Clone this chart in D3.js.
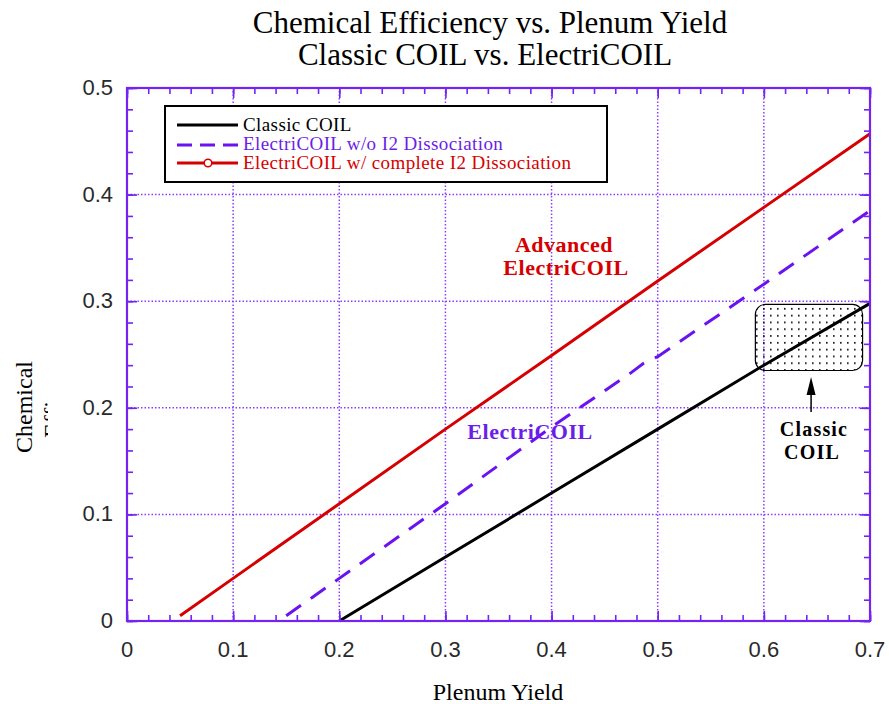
<!DOCTYPE html>
<html><head><meta charset="utf-8">
<script src="https://cdn.jsdelivr.net/npm/d3@7"></script>
<style>body{margin:0;background:#fff}svg{display:block}</style>
</head><body>
<script>
// ---- data ----
const xTicks = [0, 0.1, 0.2, 0.3, 0.4, 0.5, 0.6, 0.7];
const yTicks = [0, 0.1, 0.2, 0.3, 0.4, 0.5];
const xTickLabels = ["0", "0.1", "0.2", "0.3", "0.4", "0.5", "0.6", "0.7"];
const yTickLabels = ["0", "0.1", "0.2", "0.3", "0.4", "0.5"];

const classicX = [0.2, 0.3, 0.4, 0.5, 0.6, 0.7];
const classicY = [0.0, 0.06, 0.12, 0.18, 0.24, 0.298];

const electriX = [0.15, 0.2, 0.3, 0.4, 0.475, 0.487, 0.5, 0.6, 0.7];
const electriY = [0.005, 0.04, 0.11, 0.182, 0.233, 0.242, 0.248, 0.316, 0.385];

const advancedX = [0.05, 0.1, 0.2, 0.3, 0.4, 0.5, 0.6, 0.7];
const advancedY = [0.005, 0.04, 0.11, 0.18, 0.249, 0.319, 0.388, 0.457];

const seriesNames = ["Classic COIL", "ElectriCOIL w/o I2 Dissociation", "ElectriCOIL w/ complete I2 Dissociation"];
const classicRegionX = [0.592, 0.693];
const classicRegionY = [0.235, 0.297];

// ---- layout ----
const W = 889, H = 704;
const PURPLE = "#7424f2", RED = "#d60000", TEXTPURPLE = "#6a1ee8";
const svg = d3.select("body").append("svg").attr("width", W).attr("height", H);
const x = d3.scaleLinear().domain([0, 0.7]).range([127, 870]);
const y = d3.scaleLinear().domain([0, 0.5]).range([621, 88]);

const defs = svg.append("defs");
const pat = defs.append("pattern").attr("id", "dots").attr("patternUnits", "userSpaceOnUse")
  .attr("x", 753).attr("y", 305).attr("width", 7).attr("height", 6.8);
pat.append("rect").attr("x", 3).attr("y", 3).attr("width", 1.6).attr("height", 1.6).attr("fill", "#000");
defs.append("clipPath").attr("id", "effclip").append("rect")
  .attr("x", 40).attr("y", 390).attr("width", 8).attr("height", 52);

// title
const title = svg.append("g").attr("font-family", "'Liberation Serif', serif").attr("font-size", 31).attr("fill", "#000");
title.append("text").attr("x", 490).attr("y", 33).attr("text-anchor", "middle").text("Chemical Efficiency vs. Plenum Yield");
title.append("text").attr("x", 485).attr("y", 65).attr("text-anchor", "middle").text("Classic COIL vs. ElectriCOIL");

// grid
const grid = svg.append("g").attr("stroke", "#8a3dff").attr("stroke-width", 1.5).attr("stroke-dasharray", "1.5,2");
grid.selectAll(".gx").data(xTicks.slice(1, -1)).join("line")
  .attr("x1", d => x(d)).attr("x2", d => x(d)).attr("y1", y(0)).attr("y2", y(0.5));
grid.selectAll(".gy").data(yTicks.slice(1, -1)).join("line")
  .attr("y1", d => y(d)).attr("y2", d => y(d)).attr("x1", x(0)).attr("x2", x(0.7));

// classic region box
svg.append("rect")
  .attr("x", x(classicRegionX[0])).attr("y", y(classicRegionY[1]))
  .attr("width", x(classicRegionX[1]) - x(classicRegionX[0]))
  .attr("height", y(classicRegionY[0]) - y(classicRegionY[1]))
  .attr("rx", 10).attr("ry", 10)
  .attr("fill", "url(#dots)").attr("stroke", "#000").attr("stroke-width", 1.2);

// lines
const line = d3.line().x(d => x(d[0])).y(d => y(d[1]));
const zip = (a, b) => a.map((v, i) => [v, b[i]]);
svg.append("path").datum(zip(classicX, classicY)).attr("d", line)
  .attr("fill", "none").attr("stroke", "#000").attr("stroke-width", 3);
svg.append("path").datum(zip(electriX, electriY)).attr("d", line)
  .attr("fill", "none").attr("stroke", "#6a12f0").attr("stroke-width", 3).attr("stroke-dasharray", "18,12");
svg.append("path").datum(zip(advancedX, advancedY)).attr("d", line)
  .attr("fill", "none").attr("stroke", RED).attr("stroke-width", 3);

// axes frame with inside ticks
const axG = svg.append("g");
const minorX = d3.range(0, 0.7001, 0.02);
const minorY = d3.range(0, 0.5001, 0.02);
const ax = d3.axisBottom(x).tickValues(minorX).tickSize(-6).tickFormat("");
const axT = d3.axisTop(x).tickValues(minorX).tickSize(-6).tickFormat("");
const ay = d3.axisLeft(y).tickValues(minorY).tickSize(-6).tickFormat("");
const ayR = d3.axisRight(y).tickValues(minorY).tickSize(-6).tickFormat("");
const gB = axG.append("g").attr("transform", `translate(0,${y(0)})`).call(ax);
const gT = axG.append("g").attr("transform", `translate(0,${y(0.5)})`).call(axT);
const gL = axG.append("g").attr("transform", `translate(${x(0)},0)`).call(ay);
const gR = axG.append("g").attr("transform", `translate(${x(0.7)},0)`).call(ayR);
[gB, gT, gL, gR].forEach(g => {
  g.select(".domain").remove();
  g.selectAll("line").attr("stroke", PURPLE).attr("stroke-width", 1.6);
});
// major ticks longer
const majB = d3.axisBottom(x).tickValues(xTicks).tickSize(-10).tickFormat("");
const majT = d3.axisTop(x).tickValues(xTicks).tickSize(-10).tickFormat("");
const majL = d3.axisLeft(y).tickValues(yTicks).tickSize(-10).tickFormat("");
const majR = d3.axisRight(y).tickValues(yTicks).tickSize(-10).tickFormat("");
[[majB, `translate(0,${y(0)})`], [majT, `translate(0,${y(0.5)})`], [majL, `translate(${x(0)},0)`], [majR, `translate(${x(0.7)},0)`]]
  .forEach(([a, t]) => {
    const g = axG.append("g").attr("transform", t).call(a);
    g.select(".domain").remove();
    g.selectAll("line").attr("stroke", PURPLE).attr("stroke-width", 1.6);
  });
axG.append("rect").attr("x", x(0)).attr("y", y(0.5)).attr("width", x(0.7) - x(0)).attr("height", y(0) - y(0.5))
  .attr("fill", "none").attr("stroke", PURPLE).attr("stroke-width", 2.2);

// tick labels
const tl = svg.append("g").attr("font-family", "'Liberation Sans', Arial, sans-serif").attr("font-size", 22).attr("fill", "#2a2a2a");
tl.selectAll(".xl").data(xTicks).join("text")
  .attr("x", d => x(d)).attr("y", 657).attr("text-anchor", "middle").text((d, i) => xTickLabels[i]);
tl.selectAll(".yl").data(yTicks).join("text")
  .attr("x", 113).attr("y", d => y(d) + 7).attr("text-anchor", "end").text((d, i) => yTickLabels[i]);

// axis titles
const at = svg.append("g").attr("font-family", "'Liberation Serif', serif").attr("font-size", 24).attr("fill", "#000");
at.append("text").attr("x", 498).attr("y", 700).attr("text-anchor", "middle").text("Plenum Yield");
at.append("text").attr("transform", "translate(32,407) rotate(-90)").attr("text-anchor", "middle").text("Chemical");
at.append("g").attr("clip-path", "url(#effclip)").append("text")
  .attr("transform", "translate(60,438) rotate(-90)").attr("text-anchor", "start").text("Efficiency");

// legend
const lg = svg.append("g");
lg.append("rect").attr("x", 165).attr("y", 106).attr("width", 442).attr("height", 76)
  .attr("fill", "#fff").attr("stroke", "#000").attr("stroke-width", 2);
const legRows = [
  {name: seriesNames[0], color: "#000", text: "#000", dash: null, ly: 125, ty: 131},
  {name: seriesNames[1], color: "#6a12f0", text: TEXTPURPLE, dash: "15,8", ly: 145, ty: 150},
  {name: seriesNames[2], color: RED, text: RED, dash: null, ly: 163, ty: 169, marker: true}
];
legRows.forEach(r => {
  lg.append("line").attr("x1", 177).attr("x2", 238).attr("y1", r.ly).attr("y2", r.ly)
    .attr("stroke", r.color).attr("stroke-width", 3).attr("stroke-dasharray", r.dash);
  if (r.marker) lg.append("circle").attr("cx", 208).attr("cy", r.ly).attr("r", 3.8)
    .attr("fill", "#fff").attr("stroke", r.color).attr("stroke-width", 1.5);
  lg.append("text").attr("x", 243).attr("y", r.ty).attr("font-family", "'Liberation Serif', serif")
    .attr("font-size", 19).attr("letter-spacing", 0.4).attr("fill", r.text).text(r.name);
});

// annotations
const an = svg.append("g").attr("font-family", "'Liberation Serif', serif").attr("font-weight", "bold").attr("font-size", 22).attr("text-anchor", "middle");
an.append("text").attr("x", 564).attr("y", 252).attr("fill", RED).attr("letter-spacing", 0.5).text("Advanced");
an.append("text").attr("x", 566).attr("y", 275).attr("fill", RED).attr("letter-spacing", 0.5).text("ElectriCOIL");
an.append("text").attr("x", 530).attr("y", 439).attr("fill", TEXTPURPLE).attr("letter-spacing", 0.5).text("ElectriCOIL");
an.append("text").attr("x", 814).attr("y", 436).attr("font-size", 20).attr("letter-spacing", 1.2).attr("fill", "#000").text("Classic");
an.append("text").attr("x", 812).attr("y", 459).attr("font-size", 20).attr("letter-spacing", 1.2).attr("fill", "#000").text("COIL");

// arrow
const ax0 = x(0.6445);
svg.append("line").attr("x1", ax0).attr("x2", ax0).attr("y1", y(0.196)).attr("y2", y(0.215))
  .attr("stroke", "#000").attr("stroke-width", 1.5);
svg.append("path")
  .attr("d", `M${ax0},${y(0.229)} L${ax0 - 4.5},${y(0.212)} L${ax0 + 4.5},${y(0.212)} Z`)
  .attr("fill", "#000");
</script>
</body></html>
